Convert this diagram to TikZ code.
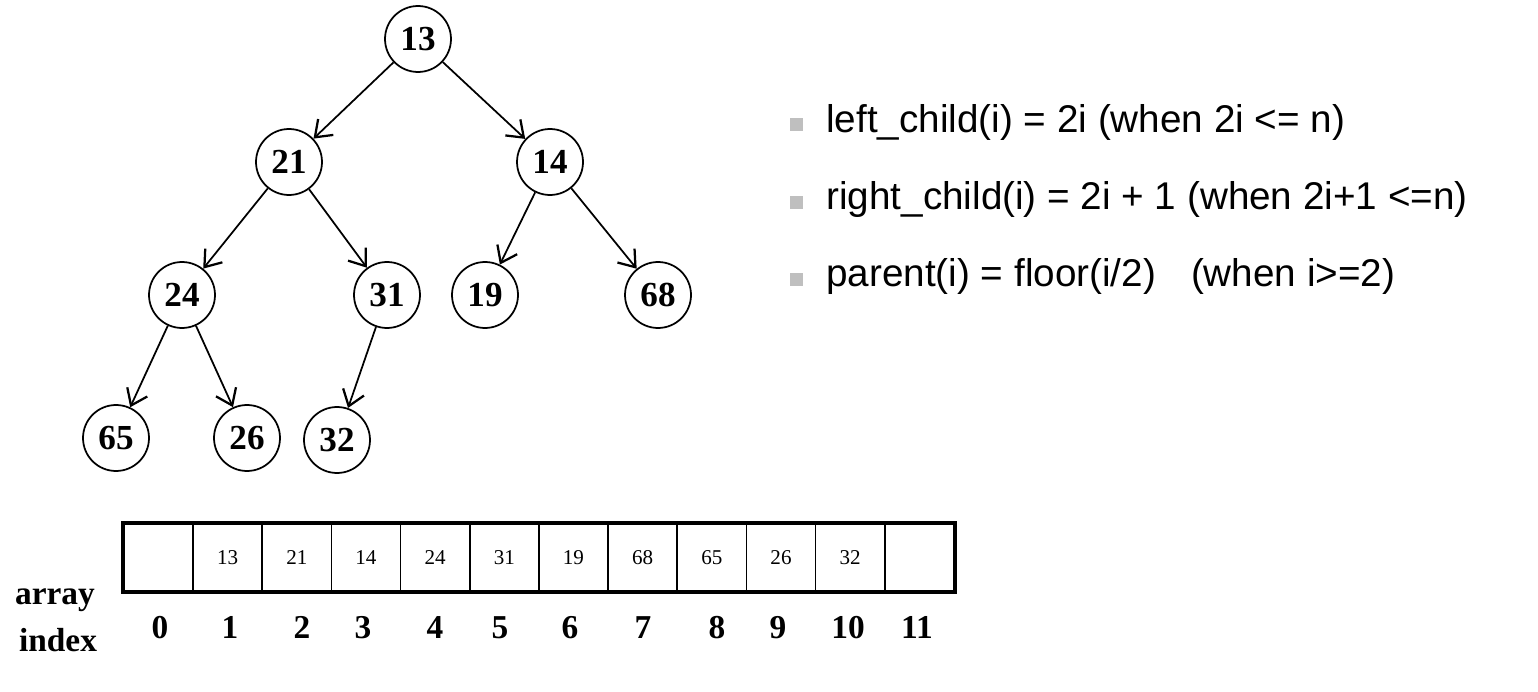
\documentclass[tikz,border=0pt]{standalone}
\usepackage{fontspec}
\setmainfont{Liberation Serif}
\newfontfamily\arialfont{Liberation Sans}
\usetikzlibrary{arrows.meta}
\begin{document}
\begin{tikzpicture}[x=0.02cm,y=-0.02cm,
  heapnode/.style={circle,draw,line width=0.035cm,minimum size=1.32cm,inner sep=0pt,
    font=\fontsize{20}{22}\selectfont\bfseries},
  link/.style={line width=0.035cm,-{Straight Barb[length=0.3cm,width=0.44cm,line width=0.045cm]}},
  cellval/.style={font=\fontsize{12}{13}\selectfont},
  idx/.style={anchor=base,inner sep=0pt,font=\fontsize{19}{21}\selectfont\bfseries},
  rule/.style={anchor=base west,inner sep=0pt,font=\arialfont\fontsize{22}{24}\selectfont},
  bullet/.style={fill=black!25,draw=none,minimum size=0.26cm,inner sep=0pt}]
\useasboundingbox (0,0) rectangle (1538,692);

% tree
\node[heapnode] (n13) at (418,39) {13};
\node[heapnode] (n21) at (289,162) {21};
\node[heapnode] (n14) at (550,162) {14};
\node[heapnode] (n24) at (182,295) {24};
\node[heapnode] (n31) at (387,295) {31};
\node[heapnode] (n19) at (485,295) {19};
\node[heapnode] (n68) at (658,295) {68};
\node[heapnode] (n65) at (116,438) {65};
\node[heapnode] (n26) at (247,438) {26};
\node[heapnode] (n32) at (337,440) {32};

\draw[link] (n13) -- (n21);
\draw[link] (n13) -- (n14);
\draw[link] (n21) -- (n24);
\draw[link] (n21) -- (n31);
\draw[link] (n14) -- (n19);
\draw[link] (n14) -- (n68);
\draw[link] (n24) -- (n65);
\draw[link] (n24) -- (n26);
\draw[link] (n31) -- (n32);

% array
\foreach \i/\v in {0/,1/13,2/21,3/14,4/24,5/31,6/19,7/68,8/65,9/26,10/32,11/} {
  \node[draw,line width=0.035cm,minimum width=69.17*0.02cm,minimum height=67*0.02cm,
    inner sep=0pt,cellval,anchor=north west] (c\i) at ({123+69.17*\i},523) {\v};
}
\draw[line width=0.07cm] (c0.north west) rectangle (c11.south east);

\foreach \i/\x in {0/160,1/230,2/302,3/363,4/435,5/500,6/570,7/643,8/717,9/778,10/848,11/917} {
  \node[idx] (i\i) at (\x,638) {\i};
}
\node[idx] (lab1) at (55,604) {array};
\node[idx] (lab2) at (58,651) {index};

% rules
\node[bullet] (b1) at (796,125) {};
\node[bullet] (b2) at (796,203) {};
\node[bullet] (b3) at (796,280) {};
\node[rule] (r1) at (826,133) {left\_child(i) = 2i (when 2i <= n)};
\node[rule] (r2) at (826,210) {right\_child(i) = 2i + 1 (when 2i+1 <=n)};
\node[rule] (r3) at (826,287) {parent(i) = floor(i/2)\hspace{0.7cm}(when i>=2)};
\end{tikzpicture}
\end{document}
